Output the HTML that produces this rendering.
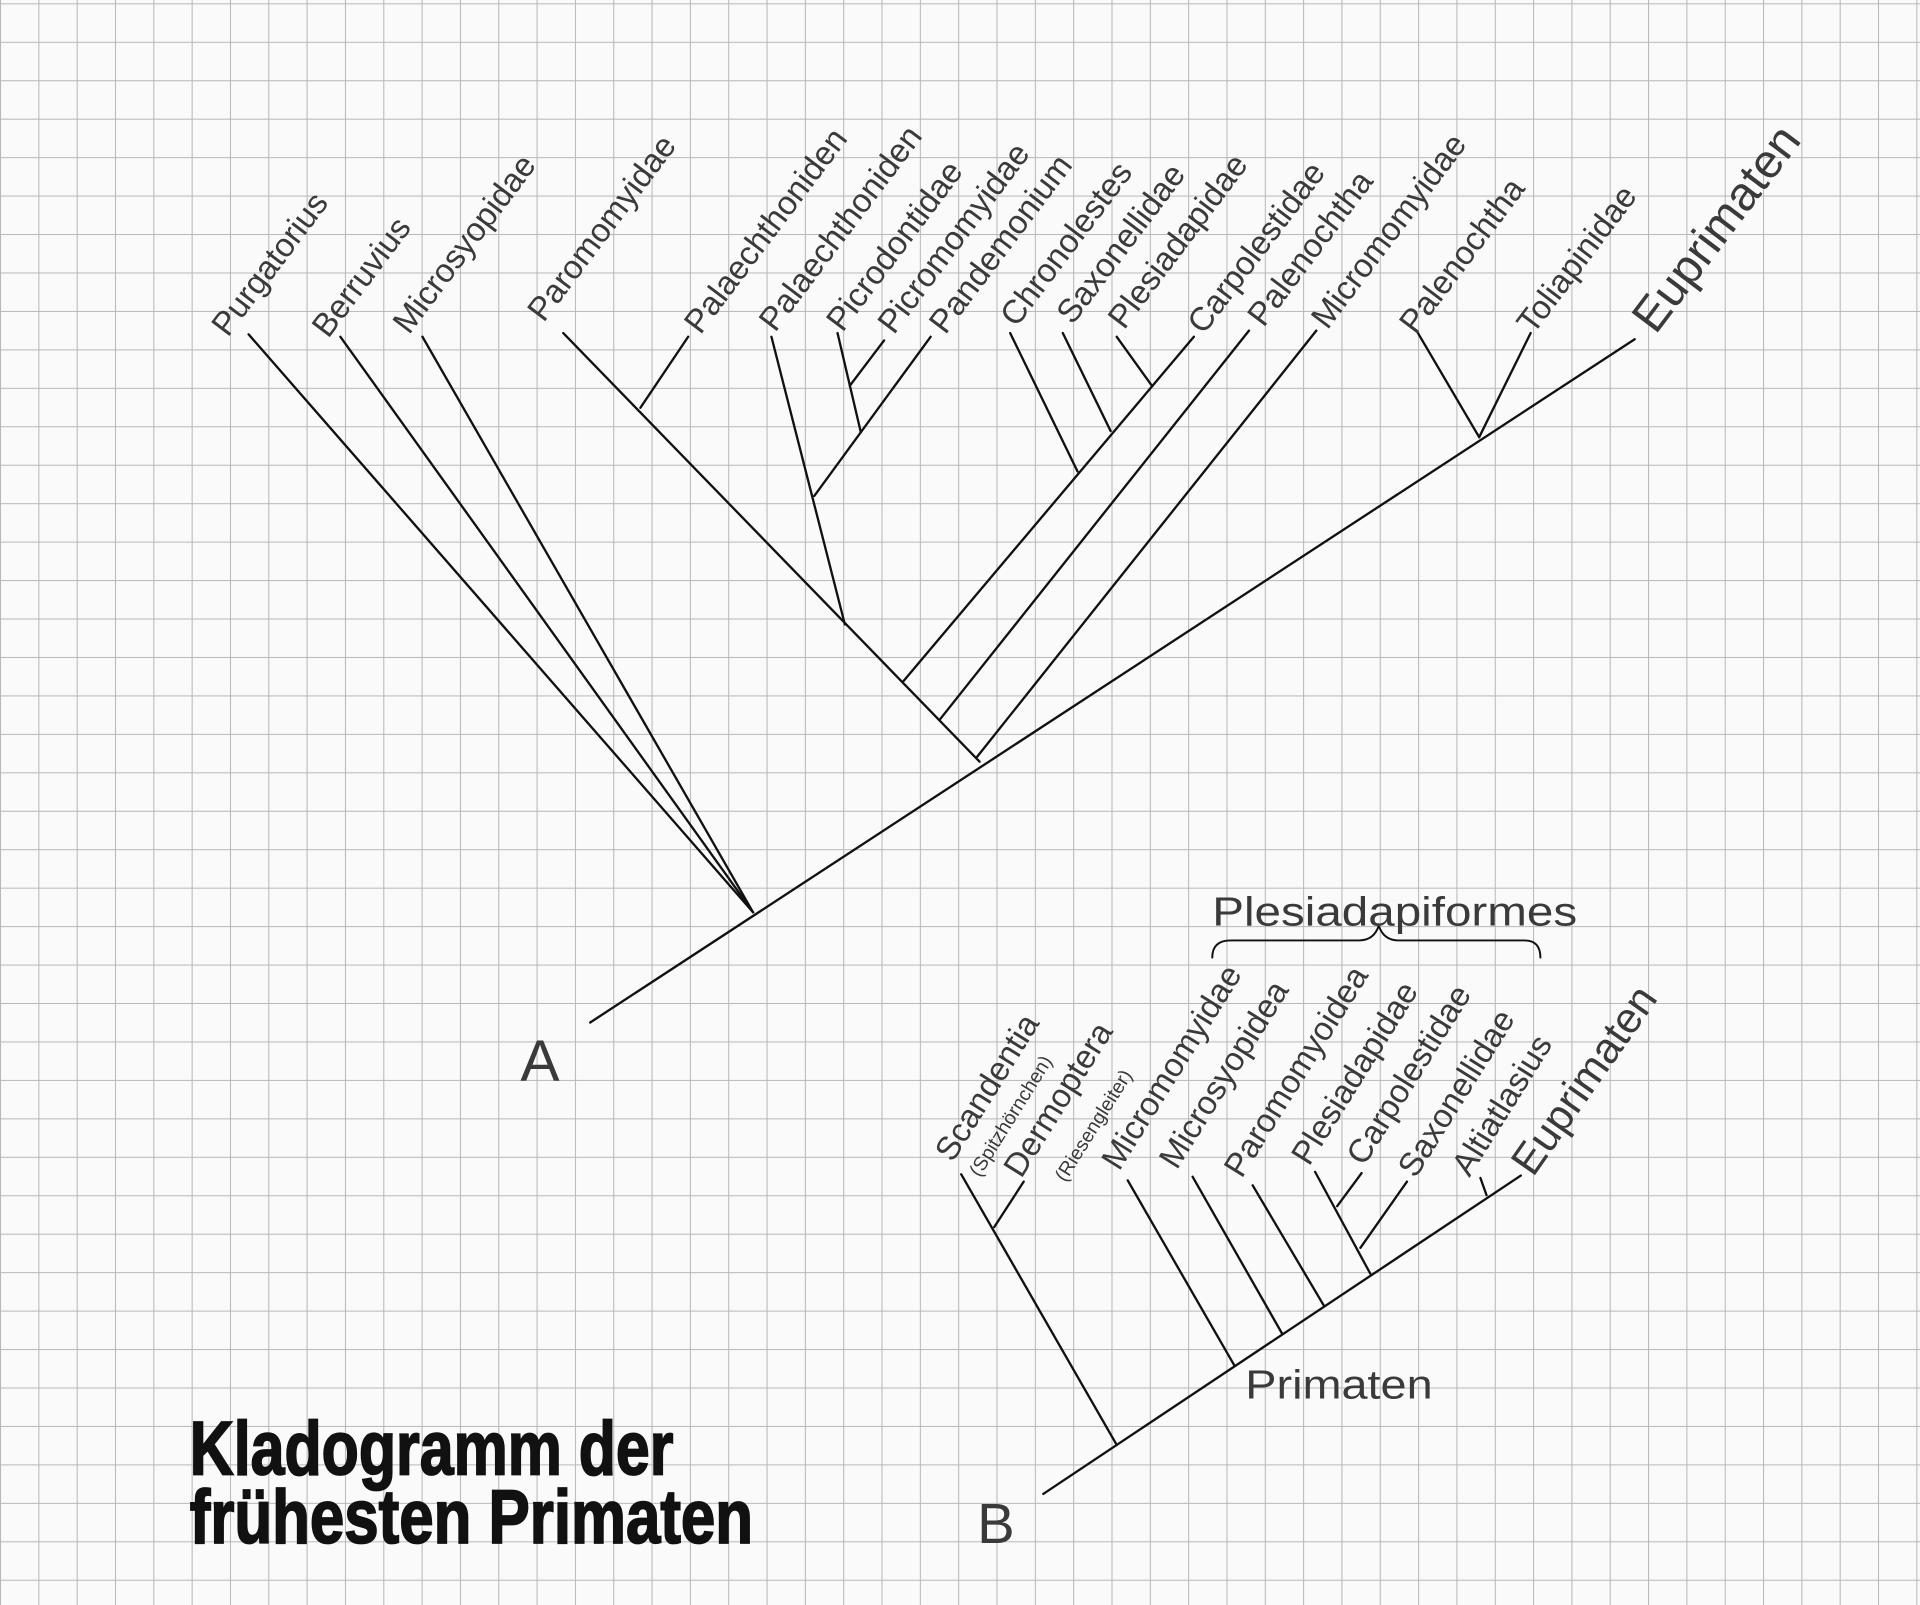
<!DOCTYPE html>
<html><head><meta charset="utf-8"><style>
html,body{margin:0;padding:0;background:#fafafa;}
svg{display:block;}
text{font-family:"Liberation Sans",sans-serif;fill:#3a3a3a;}
</style></head><body>
<svg width="1920" height="1605" viewBox="0 0 1568 1310.7" xmlns="http://www.w3.org/2000/svg">
<defs>
<pattern id="g" x="0" y="2.7" width="31.3" height="31.4" patternUnits="userSpaceOnUse">
<path d="M0 0 H31.3 M0 0 V31.4" stroke="#b8b8b8" stroke-width="1.7" fill="none"/>
</pattern>
</defs>
<rect width="1568" height="1311" fill="#fafafa"/>
<rect width="1568" height="1311" fill="url(#g)"/>

<g stroke="#111" stroke-width="1.9" fill="none" stroke-linecap="round">
<!-- Tree A -->
<line x1="482" y1="835" x2="1335" y2="277"/>
<line x1="615" y1="745" x2="203" y2="273"/>
<line x1="615" y1="745" x2="278" y2="275"/>
<line x1="615" y1="745" x2="345" y2="275"/>
<line x1="800" y1="622" x2="460" y2="272"/>
<line x1="523" y1="333" x2="562" y2="275"/>
<line x1="690" y1="510" x2="630" y2="275"/>
<line x1="665" y1="405" x2="760" y2="275"/>
<line x1="703" y1="353" x2="684" y2="272"/>
<line x1="694" y1="315" x2="722" y2="278"/>
<line x1="738" y1="556" x2="975" y2="275"/>
<line x1="880" y1="385" x2="825" y2="272"/>
<line x1="907" y1="352" x2="868" y2="272"/>
<line x1="940" y1="314" x2="912" y2="275"/>
<line x1="768" y1="587" x2="1020" y2="270"/>
<line x1="798" y1="618" x2="1075" y2="270"/>
<line x1="1208" y1="357" x2="1158" y2="272"/>
<line x1="1208" y1="357" x2="1250" y2="272"/>
<!-- Tree B -->
<line x1="852" y1="1220" x2="1242" y2="960"/>
<line x1="912" y1="1180" x2="785" y2="959"/>
<line x1="812" y1="1002" x2="836" y2="965"/>
<line x1="1008" y1="1115" x2="921" y2="964"/>
<line x1="1047" y1="1089" x2="974" y2="961"/>
<line x1="1081" y1="1066" x2="1023" y2="968"/>
<line x1="1119" y1="1040" x2="1074" y2="957"/>
<line x1="1092" y1="985" x2="1112" y2="958"/>
<line x1="1111" y1="1019" x2="1149" y2="965"/>
<line x1="1214" y1="976" x2="1209" y2="962"/>
<!-- bracket -->
<path d="M990 782 Q990 768 1005 768 L1110 768 Q1122 768 1126 756 Q1130 768 1142 768 L1245 768 Q1258 768 1258 782" stroke-width="1.6"/>
</g>

<g font-size="27">
<text transform="translate(186,276) rotate(-53)">Purgatorius</text>
<text transform="translate(268,277) rotate(-53)">Berruvius</text>
<text transform="translate(334,274) rotate(-53)">Microsyopidae</text>
<text transform="translate(444,264) rotate(-53)">Paromomyidae</text>
<text transform="translate(572,274) rotate(-53)">Palaechthoniden</text>
<text transform="translate(633,272) rotate(-53)">Palaechthoniden</text>
<text transform="translate(688,272) rotate(-53)">Picrodontidae</text>
<text transform="translate(730,274) rotate(-53)">Picromomyidae</text>
<text transform="translate(772,274) rotate(-53)">Pandemonium</text>
<text transform="translate(830,268) rotate(-53)">Chronolestes</text>
<text transform="translate(876,266) rotate(-53)">Saxonellidae</text>
<text transform="translate(918,270) rotate(-53)">Plesiadapidae</text>
<text transform="translate(983,274) rotate(-53)">Carpolestidae</text>
<text transform="translate(1032,268) rotate(-53)">Palenochtha</text>
<text transform="translate(1084,270) rotate(-53)">Micromomyidae</text>
<text transform="translate(1156,274) rotate(-53)">Palenochtha</text>
<text transform="translate(1252,274) rotate(-53)">Toliapinidae</text>
<text font-size="39" transform="translate(1352,274) rotate(-53)">Euprimaten</text>

<text transform="translate(778,950) rotate(-58)">Scandentia</text>
<text font-size="16" transform="translate(800,962) rotate(-58)">(Spitzhörnchen)</text>
<text transform="translate(834,963) rotate(-58)">Dermoptera</text>
<text font-size="16" transform="translate(870,966) rotate(-58)">(Riesengleiter)</text>
<text transform="translate(914,957) rotate(-58)">Micromomyidae</text>
<text transform="translate(961,956) rotate(-58)">Microsyopidea</text>
<text transform="translate(1014,963) rotate(-58)">Paromomyoidea</text>
<text transform="translate(1069,953) rotate(-58)">Plesiadapidae</text>
<text transform="translate(1114,953) rotate(-58)">Carpolestidae</text>
<text transform="translate(1156,963) rotate(-58)">Saxonellidae</text>
<text transform="translate(1200,962) rotate(-58)">Altiatlasius</text>
<text font-size="35" transform="translate(1252,962) rotate(-55)">Euprimaten</text>
</g>

<text x="990" y="756" font-size="33" textLength="298" lengthAdjust="spacingAndGlyphs">Plesiadapiformes</text>
<text x="1017" y="1142" font-size="33" textLength="153" lengthAdjust="spacingAndGlyphs">Primaten</text>
<text x="425" y="883" font-size="48">A</text>
<text x="798" y="1260" font-size="46">B</text>

<g font-family="'Liberation Sans Narrow','Liberation Sans',sans-serif" font-weight="bold" font-size="62" style="fill:#111;stroke:#111;stroke-width:1.5">
<text x="155" y="1204" textLength="395" lengthAdjust="spacingAndGlyphs" style="fill:#111">Kladogramm der</text>
<text x="155" y="1260" textLength="460" lengthAdjust="spacingAndGlyphs" style="fill:#111">frühesten Primaten</text>
</g>
</svg>
</body></html>
